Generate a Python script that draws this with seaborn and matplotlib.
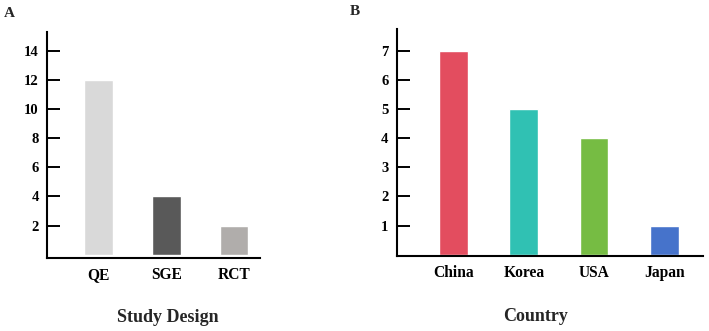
import matplotlib
matplotlib.use("Agg")
import matplotlib.pyplot as plt
import seaborn as sns

# Panel A: study design
designs = ["QE", "SGE", "RCT"]
design_counts = [12, 4, 2]
design_colors = ["#d9d9d9", "#595959", "#b0adab"]
design_ticks = [2, 4, 6, 8, 10, 12, 14]

# Panel B: country
countries = ["China", "Korea", "USA", "Japan"]
country_counts = [7, 5, 4, 1]
country_colors = ["#e34d5f", "#30c1b3", "#76bc43", "#4673cb"]
country_ticks = [1, 2, 3, 4, 5, 6, 7]

sns.set_style("white")
plt.rcParams["font.family"] = ["Liberation Serif", "DejaVu Serif"]
plt.rcParams["font.weight"] = "bold"


def style_axis(ax, ticks, xlabel, label_xy):
    sns.despine(ax=ax)
    for side in ["left", "bottom"]:
        ax.spines[side].set_linewidth(1.5)
        ax.spines[side].set_color("black")
    ax.set_yticks(ticks)
    ax.tick_params(axis="y", direction="in", length=9, width=1.4,
                   pad=6, labelsize=10.5, colors="black", left=True)
    ax.tick_params(axis="x", length=0, pad=7, labelsize=11.2, colors="black")
    for lab in ax.get_xticklabels() + ax.get_yticklabels():
        lab.set_fontweight("bold")
    ax.set_ylabel("")
    ax.set_xlabel(xlabel, fontsize=13, fontweight="bold")
    ax.xaxis.label.set_va("center")
    ax.xaxis.set_label_coords(*label_xy)


fig = plt.figure(figsize=(7.09, 3.31), dpi=100)
ax1 = fig.add_axes([0.0663, 0.222, 0.3004, 0.681])
ax2 = fig.add_axes([0.5595, 0.228, 0.432, 0.684])

sns.barplot(x=designs, y=design_counts, hue=designs, palette=design_colors,
            width=0.42, legend=False, ax=ax1, saturation=1)
ax1.set_xlim(-0.755, 2.38)
ax1.set_ylim(-0.2, 15.3)
style_axis(ax1, design_ticks, "Study Design", (0.568, -0.264))

sns.barplot(x=countries, y=country_counts, hue=countries, palette=country_colors,
            width=0.41, legend=False, ax=ax2, saturation=1)
ax2.set_xlim(-0.81, 3.55)
ax2.set_ylim(-0.03, 7.74)
style_axis(ax2, country_ticks, "Country", (0.455, -0.27))

fig.text(0.006, 0.96, "A", fontsize=11, fontweight="bold", va="center")
fig.text(0.493, 0.965, "B", fontsize=11, fontweight="bold", va="center")

fig.savefig("out.png", dpi=100)
